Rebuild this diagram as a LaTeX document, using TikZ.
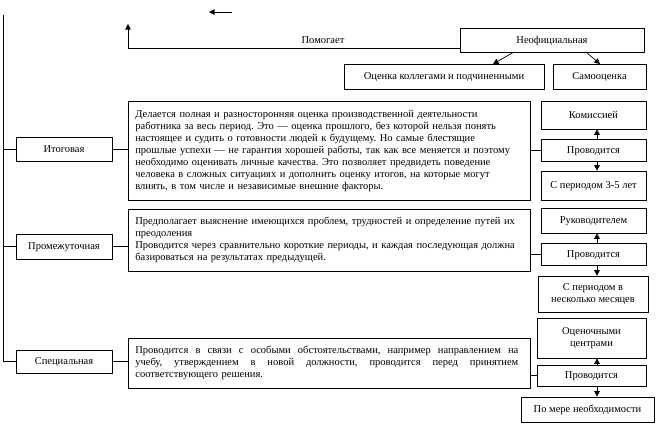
\documentclass[tikz,border=0pt]{standalone}
\usepackage{fontspec}
\setmainfont{Liberation Serif}
\usetikzlibrary{arrows.meta}
\frenchspacing
\newcommand{\jline}[1]{{\spaceskip=.3333em plus 1fil\makebox[383pt][s]{#1}}}
\begin{document}
\begin{tikzpicture}[x=1pt,y=-1pt, line width=0.7pt,
  every node/.style={font=\fontsize{10.5}{12}\selectfont},
  box/.style={draw, inner sep=0pt, align=center},
  one/.style={box, text height=8.5pt, text depth=2pt},
  tbox/.style={draw, inner xsep=7pt, inner ysep=0pt, align=left, text width=388pt, anchor=north west},
  tip/.style={-{Triangle[length=5.5pt,width=5.5pt]}}
]
\useasboundingbox (0,0) rectangle (662,424);
% top
\node[one, minimum width=184pt, minimum height=24pt] (neof) at (552,40) {Неофициальная};
\node[one, minimum width=200pt, minimum height=25pt] (kolleg) at (444,76.5) {Оценка коллегами и подчиненными};
\node[one, minimum width=93pt, minimum height=25pt] (samo) at (599.5,76.5) {Самооценка};
\node[text height=8.5pt, text depth=2pt, inner sep=0pt] (pomlbl) at (323,40) {Помогает};
\coordinate (pomstart) at (460,48);
\coordinate (pomtop) at (128,24);
\draw[tip] (pomstart) -| (pomtop);
\coordinate (ta) at (232,12);
\coordinate (tb) at (209,12);
\draw[tip] (ta) -- (tb);
\coordinate (n1) at (514,52); \coordinate (k1) at (493,64);
\coordinate (n2) at (586,52); \coordinate (s1) at (600,64);
\draw[tip] (n1) -- (k1);
\draw[tip] (n2) -- (s1);
% left
\node[one, minimum width=96pt, minimum height=24pt] (itog) at (64,149) {Итоговая};
\node[one, minimum width=96pt, minimum height=25pt] (prom) at (64,246.5) {Промежуточная};
\node[one, minimum width=96pt, minimum height=23pt] (spec) at (64,361.5) {Специальная};
\coordinate (ltop) at (3,15);
\draw (ltop) |- (spec.west);
\draw (itog.west) -- (itog.west -| ltop);
\draw (prom.west) -- (prom.west -| ltop);
% text boxes
\node[tbox, minimum height=99pt] (t1) at (128,101) {Делается полная и разносторонняя оценка производственной деятельности\\
работника за весь период. Это — оценка прошлого, без которой нельзя понять\\
настоящее и судить о готовности людей к будущему. Но самые блестящие\\
прошлые успехи — не гарантия хорошей работы, так как все меняется и поэтому\\
необходимо оценивать личные качества. Это позволяет предвидеть поведение\\
человека в сложных ситуациях и дополнить оценку итогов, на которые могут\\
влиять, в том числе и независимые внешние факторы.};
\node[tbox, minimum height=62pt] (t2) at (128,209) {Предполагает выяснение имеющихся проблем, трудностей и определение путей их\\
преодоления\\
Проводится через сравнительно короткие периоды, и каждая последующая должна\\
базироваться на результатах предыдущей.};
\node[tbox, minimum height=50pt] (t3) at (128,338) {\jline{Проводится в связи с особыми обстоятельствами, например направлением на}\\
\jline{учебу, утверждением в новой должности, проводится перед принятием}\\
соответствующего решения.};
\draw (itog.east) -- (itog.east -| t1.west);
\draw (prom.east) -- (prom.east -| t2.west);
\draw (spec.east) -- (spec.east -| t3.west);
% right groups
\node[one, minimum width=105pt, minimum height=28pt] (kom) at (593.5,115) {Комиссией};
\node[one, minimum width=105pt, minimum height=22pt] (pr1) at (593.5,150) {Проводится};
\node[one, minimum width=105pt, minimum height=29pt] (per1) at (593.5,185.5) {С периодом 3-5 лет};
\node[one, minimum width=105pt, minimum height=25pt] (ruk) at (593.5,220.5) {Руководителем};
\node[one, minimum width=105pt, minimum height=22pt] (pr2) at (593.5,254) {Проводится};
\node[box, minimum width=110pt, minimum height=36pt] (per2) at (593,294) {С периодом в\\несколько месяцев};
\node[box, minimum width=109pt, minimum height=40pt] (ocen) at (591.5,338) {Оценочными\\центрами};
\node[one, minimum width=109pt, minimum height=21pt] (pr3) at (591.5,375.5) {Проводится};
\node[one, minimum width=133pt, minimum height=25pt] (pomere) at (587.5,409.5) {По мере необходимости};
\coordinate (ax) at (597,0);
\draw (t1.east |- pr1.west) -- (pr1.west);
\draw (t2.east |- pr2.west) -- (pr2.west);
\draw (t3.east |- pr3.west) -- (pr3.west);
\draw[tip] (pr1.north -| ax) -- (kom.south -| ax);
\draw[tip] (pr1.south -| ax) -- (per1.north -| ax);
\draw[tip] (pr2.north -| ax) -- (ruk.south -| ax);
\draw[tip] (pr2.south -| ax) -- (per2.north -| ax);
\draw[tip] (pr3.north -| ax) -- (ocen.south -| ax);
\draw[tip] (pr3.south -| ax) -- (pomere.north -| ax);
\end{tikzpicture}
\end{document}
